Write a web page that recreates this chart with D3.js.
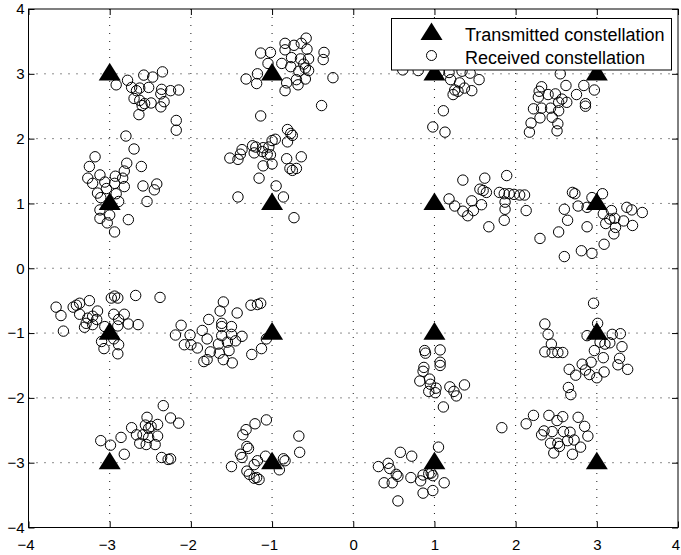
<!DOCTYPE html>
<html>
<head>
<meta charset="utf-8">
<script src="https://cdn.jsdelivr.net/npm/d3@7"></script>
<style>
  body { margin: 0; background: #fff; }
  svg { display: block; font-family: "Liberation Sans", Arial, Helvetica, sans-serif; }
</style>
</head>
<body>
<svg width="681" height="555"></svg>
<script>
// 16-QAM transmitted symbols
const txI = [-3, -3, -3, -3, -1, -1, -1, -1, 1, 1, 1, 1, 3, 3, 3, 3];
const txQ = [3, 1, -1, -3, 3, 1, -1, -3, 3, 1, -1, -3, 3, 1, -1, -3];

// received symbols (I, Q)
const received = [
    // around (-3, 3)
    [-2.92,2.83],[-2.78,2.90],[-2.73,2.79],[-2.58,2.98],[-2.47,2.95],[-2.35,3.03],[-2.52,2.79],[-2.67,2.74],
    [-2.63,2.78],[-2.36,2.76],[-2.25,2.74],[-2.15,2.75],[-2.37,2.69],[-2.70,2.62],[-2.63,2.59],[-2.57,2.54],
    [-2.60,2.51],[-2.49,2.55],[-2.33,2.57],[-2.37,2.49],[-2.64,2.37],[-2.18,2.28],[-2.18,2.13],
    // around (-3, 1)
    [-2.80,2.04],[-2.70,1.84],[-3.18,1.72],[-3.25,1.57],[-2.79,1.62],[-2.61,1.57],[-2.82,1.50],[-3.27,1.39],
    [-3.12,1.44],[-3.21,1.31],[-3.06,1.33],[-2.93,1.42],[-2.84,1.39],[-3.04,1.23],[-2.94,1.31],[-3.15,1.16],
    [-2.82,1.26],[-2.59,1.27],[-2.42,1.30],[-2.45,1.21],[-2.54,1.03],[-3.11,1.09],[-2.92,1.15],[-2.89,1.03],
    [-3.00,0.82],[-3.12,0.77],[-3.03,0.70],[-2.77,0.75],[-2.94,0.56],[-3.12,0.90],
    // around (-1, 3)
    [-0.58,3.55],[-0.84,3.47],[-0.73,3.44],[-0.64,3.47],[-0.84,3.37],[-0.57,3.38],[-1.14,3.32],[-1.02,3.33],
    [-0.36,3.33],[-0.37,3.22],[-0.76,3.25],[-0.65,3.23],[-0.55,3.23],[-0.88,3.16],[-0.77,3.11],[-0.61,3.15],
    [-0.59,3.09],[-0.67,3.04],[-0.55,3.05],[-1.05,3.16],[-1.18,3.00],[-1.32,2.92],[-1.19,2.85],[-0.82,2.86],
    [-0.84,2.74],[-0.68,2.83],[-0.70,2.91],[-0.59,2.92],[-0.25,2.94],[-0.39,2.51],
    // around (-1, 1)
    [-1.14,2.35],[-0.81,2.14],[-0.77,2.08],[-0.75,2.05],[-0.81,1.95],[-0.96,1.99],[-1.00,1.97],[-1.37,1.83],
    [-1.24,1.89],[-1.20,1.87],[-1.11,1.86],[-1.04,1.87],[-1.39,1.76],[-1.22,1.78],[-1.12,1.80],[-1.06,1.76],
    [-1.02,1.75],[-1.52,1.70],[-1.42,1.68],[-0.82,1.69],[-0.64,1.72],[-1.11,1.58],[-1.00,1.61],[-0.78,1.54],
    [-0.75,1.51],[-0.70,1.54],[-1.16,1.39],[-0.95,1.27],[-1.42,1.10],[-0.86,1.10],[-0.73,0.78],
    // around (1, 3), partly under the legend
    [0.61,3.06],[0.80,3.05],[1.06,3.03],[1.18,3.02],[1.34,3.04],[1.20,2.91],[1.31,2.86],[1.44,3.01],
    [1.55,2.91],[1.25,2.75],[1.37,2.78],[1.46,2.74],[1.29,2.73],[1.23,2.68],[1.11,2.43],[0.98,2.18],
    [1.13,2.10],[0.92,3.22],[1.22,3.30],[1.55,3.18],[1.72,3.28],[0.75,3.25],
    // around (1, 1)
    [1.35,1.36],[1.62,1.39],[1.89,1.43],[1.56,1.22],[1.60,1.20],[1.64,1.17],[1.80,1.17],[1.86,1.15],
    [1.92,1.15],[1.98,1.14],[2.05,1.13],[2.11,1.13],[1.18,1.07],[1.25,0.96],[1.46,1.04],[1.58,0.98],
    [1.35,0.88],[1.41,0.81],[1.48,0.89],[1.87,1.02],[1.87,0.91],[1.86,0.74],[1.67,0.64],[2.13,0.89],
    // around (3, 3)
    [2.55,3.00],[2.62,2.82],[2.84,2.82],[2.97,2.75],[2.32,2.80],[2.29,2.73],[2.28,2.64],[2.40,2.68],
    [2.49,2.69],[2.57,2.61],[2.63,2.56],[2.75,2.68],[2.53,2.56],[2.86,2.54],[2.86,2.50],[2.22,2.46],
    [2.32,2.47],[2.43,2.47],[2.53,2.43],[2.30,2.32],[2.45,2.33],[2.52,2.23],[2.19,2.24],[2.17,2.10],[2.51,2.12],
    // around (3, 1)
    [2.70,1.17],[2.73,1.15],[3.07,1.15],[2.94,1.09],[2.60,0.91],[2.77,0.96],[2.88,0.94],[2.64,0.74],
    [3.08,0.84],[3.18,0.89],[3.37,0.94],[3.43,0.90],[3.56,0.86],[3.16,0.76],[3.22,0.77],[3.11,0.69],
    [3.23,0.63],[3.33,0.73],[3.44,0.66],[2.88,0.64],[2.53,0.56],[2.30,0.46],[3.21,0.53],[3.09,0.37],
    [2.81,0.27],[2.94,0.23],[2.60,0.18],
    // around (-3, -1)
    [-3.66,-0.60],[-3.60,-0.73],[-3.57,-0.97],[-3.45,-0.60],[-3.37,-0.54],[-3.25,-0.50],[-3.41,-0.57],[-3.15,-0.66],
    [-3.37,-0.71],[-3.27,-0.77],[-3.21,-0.74],[-3.16,-0.79],[-3.29,-0.85],[-3.21,-0.87],[-3.31,-0.91],[-2.98,-0.46],
    [-2.94,-0.43],[-2.90,-0.46],[-2.95,-0.71],[-2.82,-0.71],[-2.89,-0.79],[-2.77,-0.86],[-2.65,-0.87],[-2.90,-0.89],
    [-2.68,-0.42],[-2.38,-0.45],[-3.10,-1.13],[-3.07,-1.24],[-2.89,-1.18],[-2.95,-1.09],[-2.90,-1.32],[-3.06,-0.90],
    // around (-1, -1)
    [-2.12,-0.88],[-2.19,-1.03],[-2.01,-1.03],[-2.08,-1.18],[-2.00,-1.18],[-1.92,-1.23],[-1.60,-0.52],[-1.64,-0.66],
    [-1.43,-0.69],[-1.26,-0.57],[-1.18,-0.56],[-1.14,-0.54],[-1.78,-0.79],[-1.62,-0.85],[-1.62,-0.90],[-1.50,-0.90],
    [-1.86,-0.96],[-1.80,-1.09],[-1.62,-1.04],[-1.50,-1.02],[-1.37,-1.05],[-1.66,-1.17],[-1.55,-1.14],[-1.45,-1.12],
    [-1.76,-1.29],[-1.65,-1.31],[-1.53,-1.27],[-1.84,-1.44],[-1.80,-1.41],[-1.60,-1.41],[-1.49,-1.46],[-1.25,-1.33],
    [-1.13,-1.24],[-1.07,-1.09],
    // around (-3, -3)
    [-2.34,-2.12],[-2.25,-2.31],[-2.15,-2.39],[-2.54,-2.30],[-2.73,-2.46],[-2.56,-2.42],[-2.52,-2.47],[-2.49,-2.44],
    [-2.41,-2.41],[-2.67,-2.57],[-2.59,-2.57],[-2.52,-2.61],[-2.41,-2.59],[-2.63,-2.70],[-2.55,-2.72],[-2.44,-2.72],
    [-2.86,-2.61],[-3.11,-2.66],[-2.99,-2.73],[-2.82,-2.87],[-2.36,-2.92],[-2.28,-2.95],[-2.25,-2.94],
    // around (-1, -3)
    [-1.07,-2.34],[-1.21,-2.40],[-1.32,-2.49],[-1.36,-2.57],[-0.67,-2.59],[-1.31,-2.75],[-1.29,-2.78],[-1.39,-2.87],
    [-1.37,-2.92],[-0.66,-2.84],[-1.18,-2.97],[-1.22,-3.03],[-1.08,-2.90],[-1.50,-3.06],[-0.86,-2.94],[-0.84,-2.97],
    [-0.91,-3.11],[-1.31,-3.13],[-1.28,-3.18],[-1.22,-3.24],[-1.16,-3.26],[-1.19,-3.23],
    // around (1, -1)
    [0.88,-1.27],[0.89,-1.31],[1.07,-1.26],[1.07,-1.45],[1.07,-1.50],[0.87,-1.53],[0.86,-1.59],[0.82,-1.74],
    [0.94,-1.71],[0.95,-1.79],[0.93,-1.90],[1.02,-1.85],[1.01,-1.92],[1.19,-1.83],[1.37,-1.80],[1.24,-1.90],
    [1.27,-1.97],[1.11,-2.14],
    // around (1, -3)
    [1.05,-2.76],[0.58,-2.84],[0.72,-2.90],[0.43,-3.01],[0.31,-3.06],[0.45,-3.09],[0.53,-3.18],[0.55,-3.21],
    [0.71,-3.23],[0.83,-3.28],[0.86,-3.19],[0.93,-3.17],[0.98,-3.20],[0.96,-3.16],[1.12,-3.31],[0.38,-3.31],
    [0.48,-3.31],[0.86,-3.47],[0.98,-3.43],[0.55,-3.59],
    // around (3, -1)
    [2.96,-0.54],[3.01,-0.85],[2.36,-0.86],[2.40,-1.02],[2.88,-1.04],[3.19,-1.02],[3.29,-1.01],[2.44,-1.17],
    [2.36,-1.29],[2.45,-1.30],[2.52,-1.30],[2.58,-1.30],[3.04,-1.14],[3.10,-1.17],[3.16,-1.15],[3.31,-1.21],
    [2.97,-1.27],[3.08,-1.38],[3.28,-1.39],[3.26,-1.49],[3.38,-1.56],[2.82,-1.48],[2.93,-1.45],[2.86,-1.57],
    [2.66,-1.56],[2.74,-1.65],[2.91,-1.64],[3.00,-1.69],[3.09,-1.60],[2.65,-1.84],[2.68,-1.95],
    // around (3, -3)
    [1.83,-2.46],[2.22,-2.27],[2.13,-2.40],[2.41,-2.27],[2.58,-2.29],[2.51,-2.35],[2.77,-2.30],[2.85,-2.44],
    [2.35,-2.51],[2.32,-2.57],[2.45,-2.52],[2.59,-2.52],[2.67,-2.53],[2.89,-2.59],[2.43,-2.70],[2.52,-2.70],
    [2.54,-2.75],[2.64,-2.66],[2.72,-2.65],[2.80,-2.76],[2.47,-2.85],[2.70,-2.87]
];

const tickValues = [-4, -3, -2, -1, 0, 1, 2, 3, 4];
const legendLabels = ["Transmitted constellation", "Received constellation"];

const margin = { top: 9, right: 3, bottom: 27.5, left: 28.5 };
const W = 681, H = 555;
const width = W - margin.left - margin.right;
const height = H - margin.top - margin.bottom;

const svg = d3.select("svg");
const g = svg.append("g").attr("transform", `translate(${margin.left},${margin.top})`);

const x = d3.scaleLinear().domain([-4, 4]).range([0, width]);
const y = d3.scaleLinear().domain([-4, 4]).range([height, 0]);

// matlab-ish '^' marker
const matlabTriangle = {
    draw(ctx, size) {
        const s = Math.sqrt(size) / 2;
        ctx.moveTo(0, -s);
        ctx.lineTo(s, 0.6 * s);
        ctx.lineTo(-s, 0.6 * s);
        ctx.closePath();
    }
};
const triangle = d3.symbol().type(matlabTriangle).size(22 * 22);

// dotted grid
const inner = tickValues.filter(d => d > -4 && d < 4);
g.append("g").selectAll("line").data(inner).join("line")
    .attr("x1", d => x(d)).attr("x2", d => x(d))
    .attr("y1", 0).attr("y2", height);
g.append("g").selectAll("line").data(inner).join("line")
    .attr("x1", 0).attr("x2", width)
    .attr("y1", d => y(d)).attr("y2", d => y(d));
g.selectAll("g line")
    .attr("stroke", "#000")
    .attr("stroke-width", 0.9)
    .attr("stroke-dasharray", "1,7");

// axes, ticks pointing inward
const fmt = d3.format("d");
const styleAxis = sel => {
    sel.select(".domain").remove();
    sel.selectAll("line").attr("stroke", "#000");
    sel.selectAll("text").attr("fill", "#000").style("font-size", "15px");
};
const xAxis = g.append("g").attr("transform", `translate(0,${height})`)
    .call(d3.axisBottom(x).tickValues(tickValues).tickFormat(fmt).tickSizeInner(-6).tickSizeOuter(0).tickPadding(12))
    .call(styleAxis);
xAxis.selectAll("text").attr("dx", d => d < 0 ? -3 : 0);
// keep the end labels inside the figure
xAxis.selectAll("text").each(function(d) {
    const b = this.getBoundingClientRect();
    if (b.right > W - 1) d3.select(this).attr("dx", W - 1 - b.right);
});

g.append("g")
    .call(d3.axisLeft(y).tickValues(tickValues).tickFormat(fmt).tickSizeInner(-6).tickSizeOuter(0).tickPadding(4))
    .call(styleAxis);
g.append("g")
    .call(d3.axisTop(x).tickValues(tickValues).tickFormat("").tickSizeInner(-6).tickSizeOuter(0))
    .call(styleAxis);
g.append("g").attr("transform", `translate(${width},0)`)
    .call(d3.axisRight(y).tickValues(tickValues).tickFormat("").tickSizeInner(-6).tickSizeOuter(0))
    .call(styleAxis);

g.append("rect")
    .attr("width", width).attr("height", height)
    .attr("fill", "none").attr("stroke", "#000").attr("stroke-width", 1);

// transmitted constellation
g.append("g").selectAll("path").data(d3.range(txI.length)).join("path")
    .attr("transform", i => `translate(${x(txI[i])},${y(txQ[i])})`)
    .attr("d", triangle)
    .attr("fill", "#000");

// received constellation
g.append("g").selectAll("circle").data(received).join("circle")
    .attr("cx", d => x(d[0]))
    .attr("cy", d => y(d[1]))
    .attr("r", 5.2)
    .attr("fill", "none")
    .attr("stroke", "#000")
    .attr("stroke-width", 1);

// legend (top right, over the data)
const legend = svg.append("g").attr("transform", "translate(391.5,18.5)");
legend.append("rect")
    .attr("width", 280).attr("height", 51.5)
    .attr("fill", "#fff").attr("stroke", "#000").attr("stroke-width", 1);
legend.append("path")
    .attr("transform", "translate(40,15)")
    .attr("d", triangle)
    .attr("fill", "#000");
legend.append("circle")
    .attr("cx", 40).attr("cy", 37)
    .attr("r", 5)
    .attr("fill", "none").attr("stroke", "#000").attr("stroke-width", 1);
legend.selectAll("text").data(legendLabels).join("text")
    .attr("x", 73.5)
    .attr("y", (d, i) => 22 + i * 23.5)
    .style("font-size", "18px")
    .attr("fill", "#000")
    .text(d => d);
</script>
</body>
</html>
